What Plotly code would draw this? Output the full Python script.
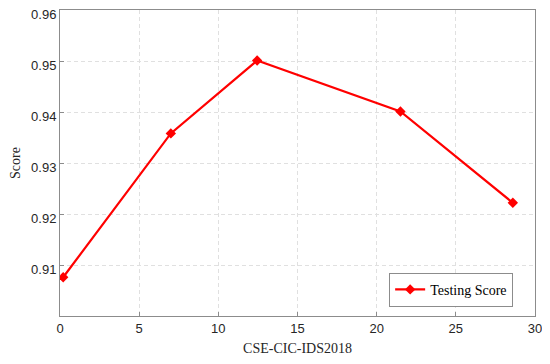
import plotly.graph_objects as go

# data
x_vals = [0.2, 7.0, 12.45, 21.5, 28.6]
scores = [0.9076, 0.9358, 0.9501, 0.9401, 0.9222]
x_ticks = [0, 5, 10, 15, 20, 25, 30]
y_ticks = [0.91, 0.92, 0.93, 0.94, 0.95, 0.96]

fig = go.Figure()
fig.add_trace(go.Scatter(
    x=x_vals, y=scores, mode='lines+markers', name='Testing Score',
    line=dict(color='#ff0000', width=2.2),
    marker=dict(symbol='diamond', size=8, color='#ff0000')))

axis_common = dict(
    showgrid=True, gridcolor='#e0e0e0', griddash='4px,3px', gridwidth=1,
    showline=True, linecolor='#8c8c8c', linewidth=1, mirror=True,
    ticks='inside', ticklen=4, tickcolor='#8c8c8c', zeroline=False,
    automargin=False, ticklabeloverflow='allow',
    tickfont=dict(family='Liberation Sans, Arial', size=13, color='#262626'))

fig.update_xaxes(range=[0, 30], tickvals=x_ticks, **axis_common,
                 title=dict(text='CSE-CIC-IDS2018', standoff=8,
                            font=dict(family='Liberation Serif, Times New Roman', size=14, color='#262626')))
fig.update_yaxes(range=[0.90, 0.96], tickvals=y_ticks, tickformat='.2f', **axis_common,
                 ticklabelshift=4,
                 title=dict(text='Score', standoff=11,
                            font=dict(family='Liberation Serif, Times New Roman', size=14, color='#262626')))

# page body has an 8px margin, so the figure is trimmed by that much
fig.update_layout(
    width=542, height=356,
    margin=dict(l=52, r=15, t=2, b=48),
    plot_bgcolor='white', paper_bgcolor='white',
    showlegend=True,
    legend=dict(x=0.954, y=0.03, xanchor='right', yanchor='bottom',
                bgcolor='white', bordercolor='#8c8c8c', borderwidth=1,
                font=dict(family='Liberation Serif, Times New Roman', size=14, color='#000000'),
                itemwidth=30))

fig.write_html("out.html")
